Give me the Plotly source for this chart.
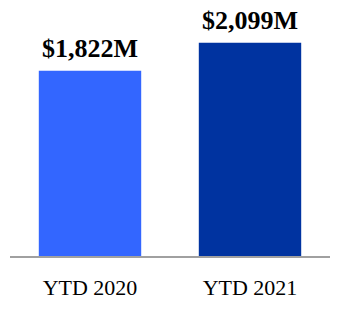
import plotly.graph_objects as go

categories = ["YTD 2020", "YTD 2021"]
values = [1822, 2099]
colors = ["#3366ff", "#0033a0"]

fig = go.Figure(go.Bar(
    x=categories, y=values, marker_color=colors, marker_line_width=0,
    width=0.64, hoverinfo="skip",
))

for c, v in zip(categories, values):
    fig.add_annotation(
        x=c, y=v, text=f"<b>${v:,}M</b>", showarrow=False,
        yanchor="bottom", yshift=6,
        font=dict(family="Liberation Serif, Times New Roman, serif", size=26, color="black"),
    )

fig.update_layout(
    width=340, height=310,
    margin=dict(l=10, r=10, t=10, b=54, autoexpand=False),
    paper_bgcolor="white", plot_bgcolor="white",
    showlegend=False,
    xaxis=dict(
        showline=True, linecolor="#a0a0a0", linewidth=2,
        showgrid=False, zeroline=False, ticks="", automargin=False,
        ticklabelstandoff=11,
        tickfont=dict(family="Liberation Serif, Times New Roman, serif", size=22, color="black"),
    ),
    yaxis=dict(range=[0, 2420], visible=False, showgrid=False, zeroline=False, automargin=False),
)

fig.write_html("out.html")
